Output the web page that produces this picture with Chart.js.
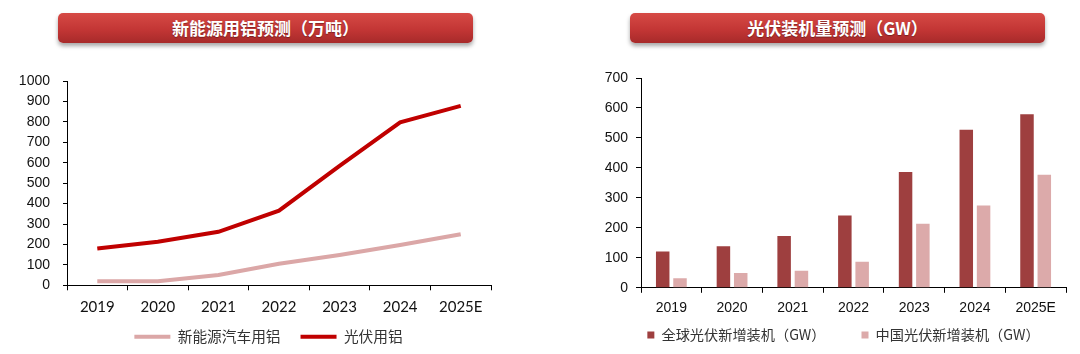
<!DOCTYPE html>
<html>
<head>
<meta charset="utf-8">
<script src="https://cdn.jsdelivr.net/npm/chart.js@4.4.0/dist/chart.umd.min.js"></script>
<style>
  body { margin: 0; width: 1080px; height: 354px; background: #fff; position: relative; overflow: hidden; font-family: "Noto Sans CJK SC", sans-serif; }
  .hd { position: absolute; top: 13px; height: 30px; width: 415px; border-radius: 5px;
        background: linear-gradient(#d64a45, #c33635 55%, #a72a2a);
        box-shadow: 0 3px 4px rgba(0,0,0,.35); color: #fff; font-weight: bold; font-size: 17px;
        line-height: 30px; text-align: center; text-shadow: 0 1px 1px rgba(0,0,0,.35); }
  .box { position: absolute; top: 55px; }
</style>
</head>
<body>
<div class="hd" style="left:58px">新能源用铝预测（万吨）</div>
<div class="hd" style="left:630px">光伏装机量预测（GW）</div>
<div class="box" style="left:0;width:536px;height:305px"><canvas id="c1"></canvas></div>
<div class="box" style="left:593px;width:487px;height:323px"><canvas id="c2"></canvas></div>
<script>
const years = ["2019", "2020", "2021", "2022", "2023", "2024", "2025E"];
// 新能源用铝（万吨）
const evAl = [20, 20, 50, 105, 148, 197, 250];
const pvAl = [180, 213, 262, 365, 585, 798, 878];
// 光伏装机量（GW）
const globalPV = [121, 139, 173, 241, 386, 527, 579];
const chinaPV = [32, 49, 57, 87, 214, 275, 377];

const arial = { family: "Liberation Sans", size: 14 };

// legend padding is both horizontal and vertical, so move the legend afterwards
const moveLegend = {
  id: "moveLegend",
  afterLayout(chart, args, opts) {
    const lg = chart.legend;
    lg.top += opts.dy; lg.bottom += opts.dy;
    lg.left += opts.dx; lg.right += opts.dx;
  }
};

function noStroke(chart) {
  return Chart.defaults.plugins.legend.labels.generateLabels(chart).map(l => ({ ...l, lineWidth: 0 }));
}

function xAxis(font, pad) {
  return {
    offset: true,
    grid: { display: true, drawOnChartArea: false, drawTicks: true, tickLength: 5, offset: true, color: "#000" },
    border: { display: true, color: "#000" },
    ticks: { color: "#111", font: font, padding: pad, maxRotation: 0 },
    afterFit: s => { s.height = 30; }
  };
}

function yAxis(max, w, tl, pad) {
  return {
    min: 0, max: max,
    grid: { display: true, drawOnChartArea: false, tickLength: tl, color: "#000" },
    border: { display: true, color: "#000" },
    ticks: { stepSize: 100, autoSkip: false, color: "#111", font: arial, padding: pad, callback: v => String(v) },
    afterFit: s => { s.width = w; }
  };
}

new Chart(document.getElementById("c1"), {
  type: "line",
  data: {
    labels: years,
    datasets: [
      { label: "新能源汽车用铝", data: evAl, borderColor: "#dba7a7", backgroundColor: "#dba7a7", borderWidth: 4, pointRadius: 0, tension: 0 },
      { label: "光伏用铝", data: pvAl, borderColor: "#c00000", backgroundColor: "#c00000", borderWidth: 4, pointRadius: 0, tension: 0 }
    ]
  },
  plugins: [moveLegend],
  options: {
    responsive: true, maintainAspectRatio: false, animation: false,
    layout: { padding: { top: 26, right: 45, left: 0, bottom: 0 } },
    plugins: {
      tooltip: { enabled: false },
      moveLegend: { dx: 23, dy: -6 },
      legend: {
        position: "bottom",
        labels: { boxWidth: 36, boxHeight: 4, padding: 20, color: "#333",
                  font: { family: "Noto Sans CJK SC", size: 14.7 }, generateLabels: noStroke }
      }
    },
    scales: { x: xAxis({ family: "Lato", size: 15 }, 8), y: yAxis(1000, 67, 4, 13) }
  }
});

new Chart(document.getElementById("c2"), {
  type: "bar",
  data: {
    labels: years,
    datasets: [
      { label: "全球光伏新增装机（GW）", data: globalPV, backgroundColor: "#9e3f3f", categoryPercentage: 0.57, barPercentage: 0.78 },
      { label: "中国光伏新增装机（GW）", data: chinaPV, backgroundColor: "#dcaaaa", categoryPercentage: 0.57, barPercentage: 0.78 }
    ]
  },
  plugins: [moveLegend],
  options: {
    responsive: true, maintainAspectRatio: false, animation: false,
    layout: { padding: { top: 23, right: 14, left: 0, bottom: 0 } },
    plugins: {
      tooltip: { enabled: false },
      moveLegend: { dx: 14, dy: -26 },
      legend: {
        position: "bottom",
        labels: { boxWidth: 7, boxHeight: 7, padding: 36, color: "#333",
                  font: { family: "Noto Sans CJK SC", size: 14.2 }, generateLabels: noStroke }
      }
    },
    scales: { x: xAxis(arial, 7), y: yAxis(700, 48, 5, 8) }
  }
});
</script>
</body>
</html>
